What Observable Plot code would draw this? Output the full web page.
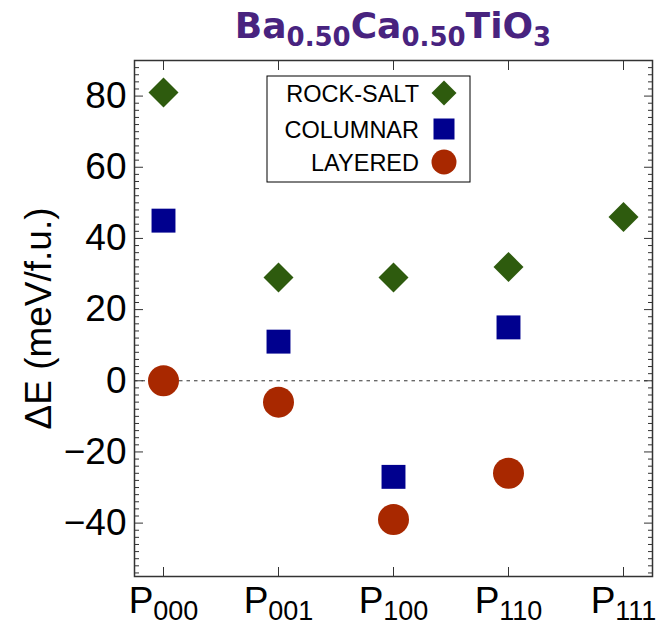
<!DOCTYPE html>
<html>
<head>
<meta charset="utf-8">
<script src="https://cdn.jsdelivr.net/npm/d3@7"></script>
<script src="https://cdn.jsdelivr.net/npm/@observablehq/plot@0.6"></script>
<style>
  body { margin: 0; background: #fff; }
  #chart { width: 664px; height: 627px; }
</style>
</head>
<body>
<div id="chart"></div>
<script>
// ---- data ----
const categories = ["P000", "P001", "P100", "P110", "P111"];
const seriesNames = ["ROCK-SALT", "COLUMNAR", "LAYERED"];
const seriesColors = ["#2e5b0e", "#00008e", "#a82800"];
const seriesSymbols = ["diamond2", "square", "circle"];
const rockSalt = [81, 29, 29, 32, 46];
const columnar = [45, 11, -27, 15, null];
const layered = [0, -6, -39, -26, null];
const yTicks = [-40, -20, 0, 20, 40, 60, 80];
const yMinorTicks = d3.range(-54, 90, 2).filter(v => v % 20 !== 0);
const yLabel = "ΔE (meV/f.u.)";

const seriesValues = [rockSalt, columnar, layered];
const rows = [];
seriesValues.forEach((vals, s) => vals.forEach((v, i) => {
  if (v != null) rows.push({series: seriesNames[s], cat: categories[i], value: v});
}));

const fmt = d => d < 0 ? "\u2212" + (-d) : String(d);
const tickColor = "#333";

const chart = Plot.plot({
  width: 664,
  height: 627,
  marginLeft: 134,
  marginRight: 12,
  marginTop: 60,
  marginBottom: 51,
  style: {fontFamily: "'Liberation Sans', Arial, sans-serif", fontSize: "37px", color: "#000", background: "#fff"},
  x: {type: "point", domain: categories, padding: 0.25},
  y: {domain: [-55, 90]},
  marks: [
    Plot.ruleY([0], {stroke: "#333", strokeWidth: 1, strokeDasharray: "3.5,4"}),
    Plot.axisY(yMinorTicks, {anchor: "left", tickSize: -5, tickFormat: () => "", label: null, stroke: tickColor}),
    Plot.axisY(yMinorTicks, {anchor: "right", tickSize: -5, tickFormat: () => "", label: null, stroke: tickColor}),
    Plot.axisY(yTicks, {anchor: "left", tickSize: -9, tickPadding: 17, tickFormat: fmt, stroke: tickColor,
      label: yLabel, labelAnchor: "center", labelOffset: 110, labelArrow: "none", fontSize: 37}),
    Plot.axisY(yTicks, {anchor: "right", tickSize: -9, tickFormat: () => "", label: null, stroke: tickColor}),
    Plot.axisX({anchor: "bottom", tickSize: -9, tickPadding: 19, label: null, stroke: tickColor, fontSize: 37}),
    Plot.axisX({anchor: "top", tickSize: -9, tickFormat: () => "", label: null, stroke: tickColor}),
    Plot.frame({stroke: "#333", strokeWidth: 1.5}),
    ...seriesNames.map((name, s) => Plot.dot(rows.filter(d => d.series === name), {
      x: "cat", y: "value",
      symbol: () => seriesSymbols[s],
      r: s === 2 ? 15.5 : 13.5,
      fill: seriesColors[s],
      stroke: "none"
    }))
  ]
});

document.getElementById("chart").appendChild(chart);
const svg = d3.select(chart.tagName.toLowerCase() === "svg" ? chart : chart.querySelector("svg"));

// subscripts on x tick labels
svg.selectAll('[aria-label="x-axis tick label"] text').each(function() {
  const t = this.textContent;
  if (!t) return;
  const el = d3.select(this);
  el.text(null);
  el.append("tspan").text(t[0]);
  el.append("tspan").attr("font-size", 27).attr("dy", 7).text(t.slice(1));
});

// title
const W = 664, ml = 134, mr = 12;
const title = svg.append("text")
  .attr("x", (ml + W - mr) / 2)
  .attr("y", 38)
  .attr("text-anchor", "middle")
  .attr("font-family", "'DejaVu Sans', sans-serif")
  .attr("font-weight", "bold")
  .attr("font-size", 36)
  .attr("fill", "#48237f");
[["Ba", false], ["0.50", true], ["Ca", false], ["0.50", true], ["TiO", false], ["3", true]].forEach(([s, sub], i, arr) => {
  const prevSub = i > 0 && arr[i - 1][1];
  const ts = title.append("tspan").text(s);
  if (sub) ts.attr("font-size", 26).attr("dy", 8);
  else if (prevSub) ts.attr("dy", -8);
});

// legend
const lg = svg.append("g").attr("font-family", "'Liberation Sans', Arial, sans-serif").attr("font-size", 23.5);
lg.append("rect").attr("x", 267).attr("y", 76).attr("width", 203).attr("height", 106)
  .attr("fill", "#fff").attr("stroke", "#000").attr("stroke-width", 1);
const rowY = [93, 129, 162];
seriesNames.forEach((name, s) => {
  lg.append("text").attr("x", 419).attr("y", rowY[s] + 8.5).attr("text-anchor", "end").attr("fill", "#000").text(name);
  const sym = s === 0 ? d3.symbolDiamond2 : s === 1 ? d3.symbolSquare : d3.symbolCircle;
  const size = s === 0 ? 398 : s === 1 ? 441 : Math.PI * 12.5 * 12.5;
  lg.append("path").attr("d", d3.symbol(sym, size)()).attr("transform", `translate(444,${rowY[s]})`)
    .attr("fill", seriesColors[s]);
});
</script>
</body>
</html>
